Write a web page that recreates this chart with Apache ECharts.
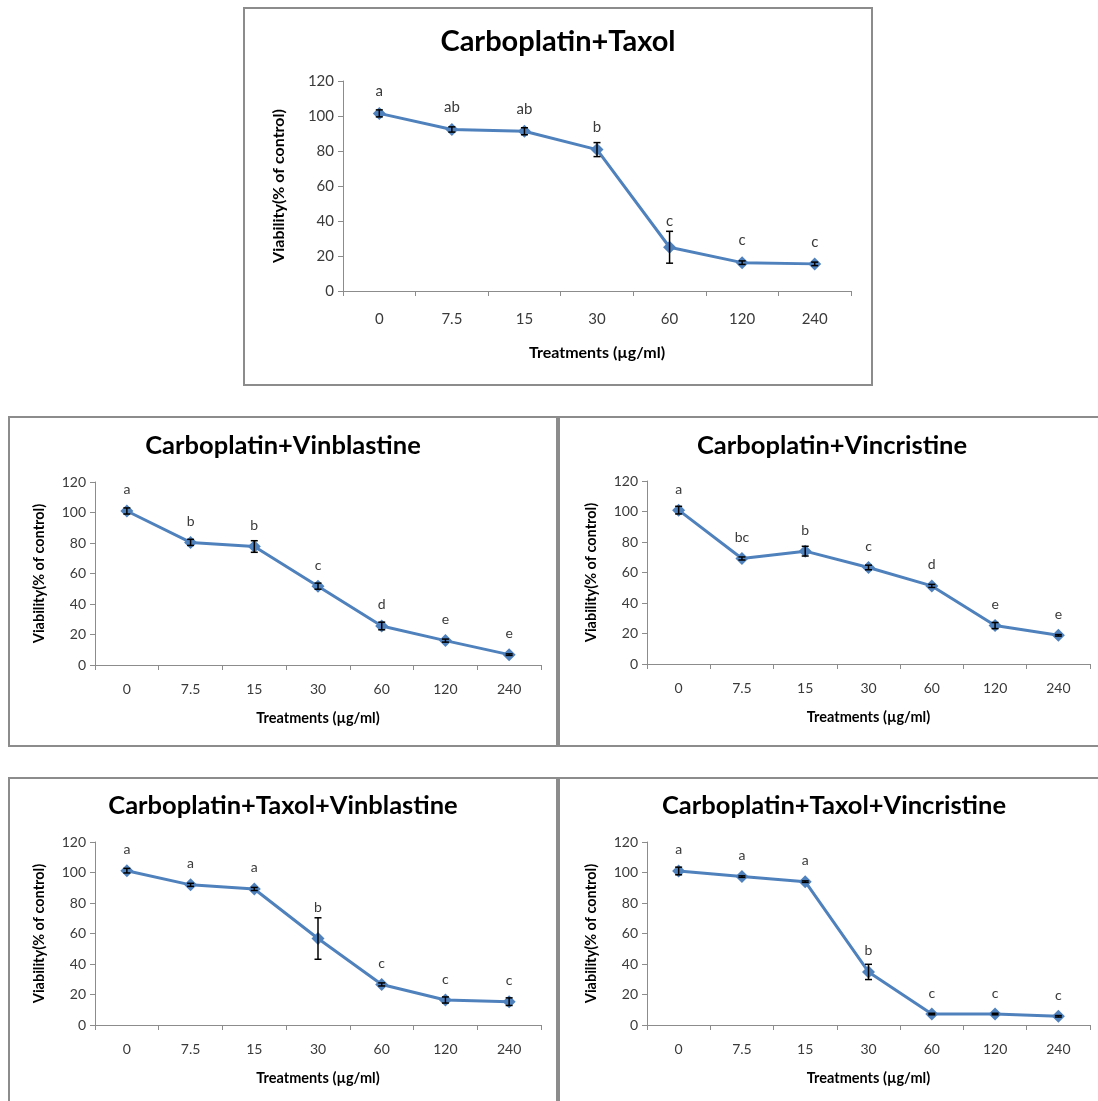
<!DOCTYPE html>
<html><head><meta charset="utf-8">
<script src="https://cdn.jsdelivr.net/npm/echarts@6/dist/echarts.min.js"></script>
<style>html,body{margin:0;padding:0;background:#fff}#c{width:1098px;height:1101px}</style>
</head><body><div id="c"></div>
<script>
const categories = ['0', '7.5', '15', '30', '60', '120', '240'];
const yMin = 0, yMax = 120, yStep = 20;

const titles = ['Carboplatin+Taxol', 'Carboplatin+Vinblastine', 'Carboplatin+Vincristine',
  'Carboplatin+Taxol+Vinblastine', 'Carboplatin+Taxol+Vincristine'];

const taxolMean = [101.5, 92.3, 91.3, 80.8, 25.0, 16.2, 15.5];
const taxolErr = [2, 1.5, 2, 4, 9.1, 1, 1];
const taxolLetters = ['a', 'ab', 'ab', 'b', 'c', 'c', 'c'];

const vinblastineMean = [101, 80.4, 77.7, 51.7, 25.6, 16.0, 6.8];
const vinblastineErr = [2, 2, 3.8, 2, 2.5, 1, 0.5];
const vinblastineLetters = ['a', 'b', 'b', 'c', 'd', 'e', 'e'];

const vincristineMean = [100.9, 69.2, 74.0, 63.3, 51.2, 25.2, 18.8];
const vincristineErr = [2.5, 1, 3.2, 1.5, 1, 2, 0.5];
const vincristineLetters = ['a', 'bc', 'b', 'c', 'd', 'e', 'e'];

const taxolVinblastineMean = [101.2, 91.9, 89.2, 56.7, 26.6, 16.4, 15.3];
const taxolVinblastineErr = [1.5, 1, 1, 13.6, 1, 2, 2.5];
const taxolVinblastineLetters = ['a', 'a', 'a', 'b', 'c', 'c', 'c'];

const taxolVincristineMean = [101, 97.3, 94, 34.8, 7.2, 7.2, 5.7];
const taxolVincristineErr = [2.5, 0.5, 0.5, 5, 0.5, 0.5, 0.5];
const taxolVincristineLetters = ['a', 'a', 'a', 'b', 'c', 'c', 'c'];

const xTitle = 'Treatments (µg/ml)';
const yTitle = 'Viability(% of control)';

const FONT = 'Lato, "Open Sans", sans-serif';
const BLUE = '#4F81BD';
const GRAY = '#8C8C8C';
const TXT = '#3a3a3a';

// layout
const panels = [
  {mean: taxolMean, err: taxolErr, letters: taxolLetters, box: [244, 8, 628, 377],
   grid: {left: 343, top: 81, width: 508, height: 210}, title: [558, 42, 29], fs: 15, ts: 16, xGap: 54, yGap: 56, xMargin: 21, lo: 22},
  {mean: vinblastineMean, err: vinblastineErr, letters: vinblastineLetters, box: [9, 417, 548, 329],
   grid: {left: 95, top: 482, width: 446, height: 183}, title: [283, 446, 25.5], fs: 14, ts: 14.5, xGap: 46, yGap: 48, xMargin: 17, lo: 21},
  {mean: vincristineMean, err: vincristineErr, letters: vincristineLetters, box: [559, 417, 560, 329],
   grid: {left: 647, top: 481, width: 443, height: 183}, title: [832, 446, 25.5], fs: 14, ts: 14.5, xGap: 46, yGap: 48, xMargin: 17, lo: 21},
  {mean: taxolVinblastineMean, err: taxolVinblastineErr, letters: taxolVinblastineLetters, box: [9, 778, 548, 340],
   grid: {left: 95, top: 842, width: 446, height: 183}, title: [283, 806, 25.5], fs: 14, ts: 14.5, xGap: 46, yGap: 48, xMargin: 17, lo: 21},
  {mean: taxolVincristineMean, err: taxolVincristineErr, letters: taxolVincristineLetters, box: [559, 778, 560, 340],
   grid: {left: 647, top: 842, width: 443, height: 183}, title: [834, 806, 25.5], fs: 14, ts: 14.5, xGap: 46, yGap: 48, xMargin: 17, lo: 21}
];

const option = {animation: false, backgroundColor: '#fff', grid: [], xAxis: [], yAxis: [], series: [], graphic: []};

panels.forEach((p, k) => {
  option.graphic.push({type: 'rect', shape: {x: p.box[0], y: p.box[1], width: p.box[2], height: p.box[3]},
    style: {fill: 'none', stroke: GRAY, lineWidth: 2}, z: 0});
  option.graphic.push({type: 'text', x: p.title[0], y: p.title[1],
    style: {text: titles[k], font: 'bold ' + p.title[2] + 'px ' + FONT, fill: '#000', textAlign: 'center', textVerticalAlign: 'middle'}});
  option.grid.push(Object.assign({containLabel: false}, p.grid));
  option.xAxis.push({type: 'category', gridIndex: k, data: categories, boundaryGap: true,
    axisLine: {lineStyle: {color: GRAY, width: 1}},
    axisTick: {show: true, length: 5, inside: false, alignWithLabel: false, lineStyle: {color: GRAY}},
    axisLabel: {color: TXT, fontSize: p.fs, fontFamily: FONT, margin: p.xMargin},
    name: xTitle, nameLocation: 'middle', nameGap: p.xGap,
    nameTextStyle: {color: '#000', fontSize: p.ts, fontWeight: 'bold', fontFamily: FONT}});
  option.yAxis.push({type: 'value', gridIndex: k, min: yMin, max: yMax, interval: yStep,
    splitLine: {show: false},
    axisLine: {show: true, lineStyle: {color: GRAY, width: 1}},
    axisTick: {show: true, length: 5, lineStyle: {color: GRAY}},
    axisLabel: {color: TXT, fontSize: p.fs, fontFamily: FONT, margin: 9},
    name: yTitle, nameLocation: 'middle', nameGap: p.yGap, nameRotate: 90,
    nameTextStyle: {color: '#000', fontSize: p.ts, fontWeight: 'bold', fontFamily: FONT}});
  option.series.push({type: 'line', xAxisIndex: k, yAxisIndex: k, data: p.mean,
    symbol: 'diamond', symbolSize: 13, z: 2,
    lineStyle: {color: BLUE, width: 3}, itemStyle: {color: BLUE}});
  option.series.push({type: 'custom', xAxisIndex: k, yAxisIndex: k, z: 3,
    data: p.mean.map((m, i) => [i, m - p.err[i], m + p.err[i], m]),
    encode: {x: 0, y: [1, 2]},
    renderItem: (params, api) => {
      const lo = api.coord([api.value(0), api.value(1)]);
      const hi = api.coord([api.value(0), api.value(2)]);
      const mid = api.coord([api.value(0), api.value(3)]);
      const w = 3.5;
      const st = {stroke: '#000', lineWidth: 1.5};
      const ly = Math.min(mid[1] - p.lo, hi[1] - 10);
      return {type: 'group', children: [
        {type: 'line', shape: {x1: lo[0], y1: lo[1], x2: hi[0], y2: hi[1]}, style: st},
        {type: 'line', shape: {x1: lo[0] - w, y1: lo[1], x2: lo[0] + w, y2: lo[1]}, style: st},
        {type: 'line', shape: {x1: hi[0] - w, y1: hi[1], x2: hi[0] + w, y2: hi[1]}, style: st},
        {type: 'text', x: mid[0], y: ly, style: {text: p.letters[params.dataIndex], fill: TXT,
          font: p.fs + 'px ' + FONT, textAlign: 'center', textVerticalAlign: 'middle'}}
      ]};
    }});
});

const chart = echarts.init(document.getElementById('c'), null, {renderer: 'canvas'});
chart.setOption(option);
</script></body></html>
